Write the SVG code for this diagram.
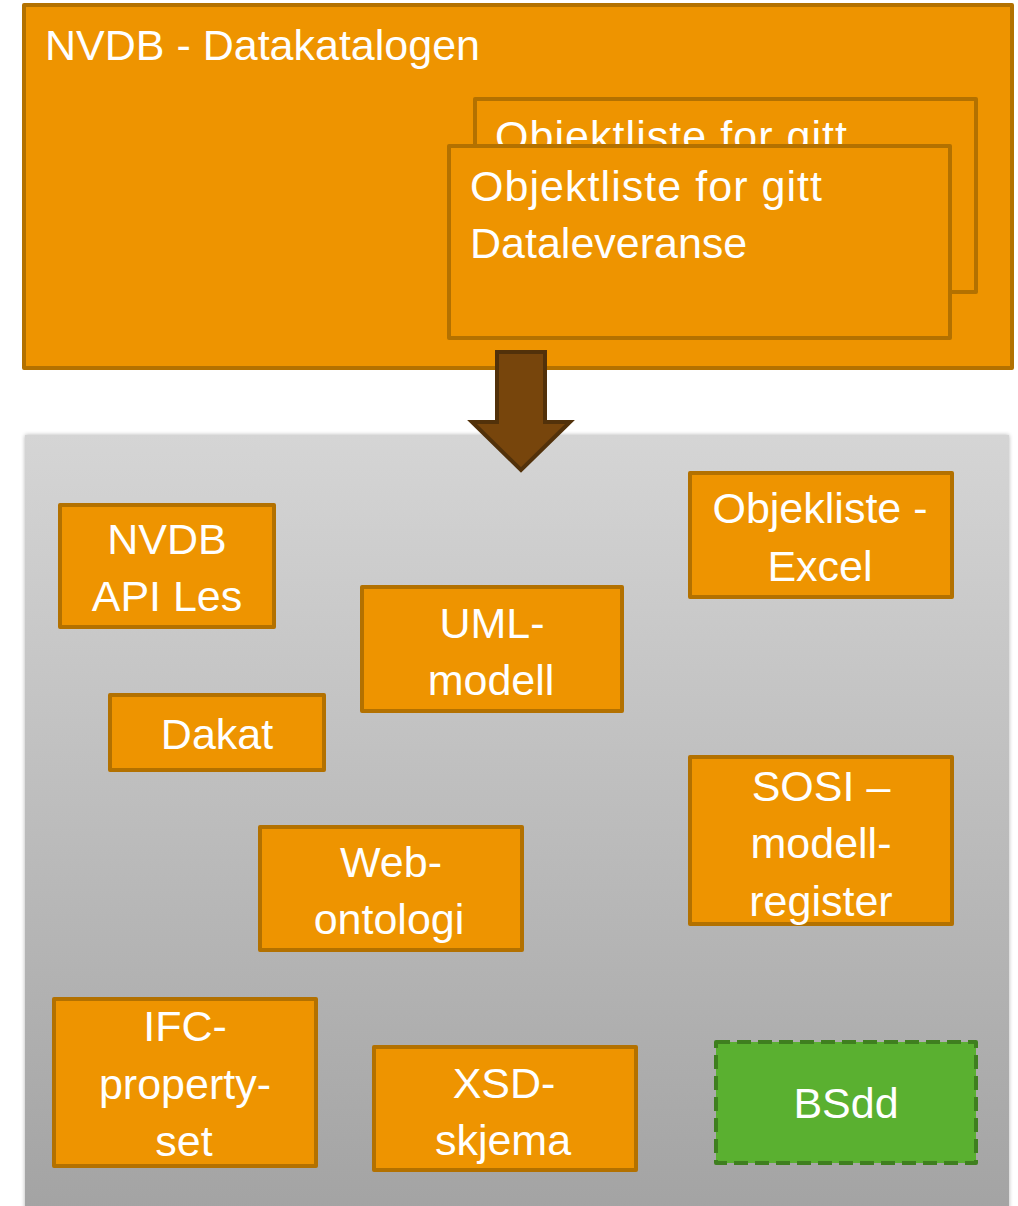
<svg xmlns="http://www.w3.org/2000/svg" width="1018" height="1206" viewBox="0 0 1018 1206">
<defs>
<linearGradient id="panelGrad" x1="0" y1="0" x2="0" y2="1">
<stop offset="0" stop-color="#d5d5d5"/>
<stop offset="1" stop-color="#a3a3a3"/>
</linearGradient>
<filter id="shadow" x="-5%" y="-5%" width="110%" height="110%">
<feGaussianBlur in="SourceAlpha" stdDeviation="2"/>
<feOffset dx="0" dy="0"/>
<feComponentTransfer><feFuncA type="linear" slope="0.3"/></feComponentTransfer>
<feMerge><feMergeNode/><feMergeNode in="SourceGraphic"/></feMerge>
</filter>
<clipPath id="backClip"><rect x="473" y="98" width="504" height="47"/></clipPath>
</defs>
<style>
.box{fill:#ee9400;stroke:#b37100;stroke-width:4;stroke-linejoin:round}
.lbl{font-family:"Liberation Sans",Arial,sans-serif;font-size:43px;fill:#ffffff}
.c{text-anchor:middle}
.bs{fill:#5ab030;stroke:#3f7f1f;stroke-width:4;stroke-dasharray:14 7;stroke-linejoin:round}
</style>
<rect x="25" y="435" width="984" height="780" fill="url(#panelGrad)" filter="url(#shadow)"/>
<g id="datakatalogen">
<rect class="box" x="24" y="5" width="988" height="363"/>
<text class="lbl" x="45" y="60">NVDB - Datakatalogen</text>
</g>
<g id="objektliste-back">
<rect class="box" x="475" y="99" width="501" height="193"/>
<text class="lbl" x="495" y="151" textLength="352" lengthAdjust="spacing" clip-path="url(#backClip)">Objektliste for gitt</text>
</g>
<g id="objektliste-front">
<rect class="box" x="449" y="146" width="501" height="192"/>
<text class="lbl" x="470" y="201" textLength="352" lengthAdjust="spacing">Objektliste for gitt</text>
<text class="lbl" x="470" y="258">Dataleveranse</text>
</g>
<g id="connectors">
<path d="M497,352 L545,352 L545,422 L570,422 L521,470 L472,422 L497,422 Z" fill="#77450c" stroke="#52310a" stroke-width="4" stroke-linejoin="miter"/>
</g>
<g id="nvdb-api">
<rect class="box" x="60" y="505" width="214" height="122"/>
<text class="lbl c" x="167" y="554">NVDB</text>
<text class="lbl c" x="167" y="611">API Les</text>
</g>
<g id="objekliste-excel">
<rect class="box" x="690" y="473" width="262" height="124"/>
<text class="lbl c" x="820" y="523">Objekliste -</text>
<text class="lbl c" x="820" y="581">Excel</text>
</g>
<g id="uml">
<rect class="box" x="362" y="587" width="260" height="124"/>
<text class="lbl c" x="492" y="638">UML-</text>
<text class="lbl c" x="491" y="695">modell</text>
</g>
<g id="dakat">
<rect class="box" x="110" y="695" width="214" height="75"/>
<text class="lbl c" x="217" y="749">Dakat</text>
</g>
<g id="sosi">
<rect class="box" x="690" y="757" width="262" height="167"/>
<text class="lbl c" x="821" y="801">SOSI –</text>
<text class="lbl c" x="821" y="858">modell-</text>
<text class="lbl c" x="821" y="916">register</text>
</g>
<g id="web-ontologi">
<rect class="box" x="260" y="827" width="262" height="123"/>
<text class="lbl c" x="391" y="877">Web-</text>
<text class="lbl c" x="389" y="934">ontologi</text>
</g>
<g id="ifc">
<rect class="box" x="54" y="999" width="262" height="167"/>
<text class="lbl c" x="185" y="1041">IFC-</text>
<text class="lbl c" x="185" y="1099">property-</text>
<text class="lbl c" x="184" y="1156">set</text>
</g>
<g id="xsd">
<rect class="box" x="374" y="1047" width="262" height="123"/>
<text class="lbl c" x="504" y="1098">XSD-</text>
<text class="lbl c" x="503" y="1155">skjema</text>
</g>
<g id="bsdd">
<rect class="bs" x="716" y="1042" width="260" height="121"/>
<text class="lbl c" x="846" y="1118">BSdd</text>
</g>
</svg>
